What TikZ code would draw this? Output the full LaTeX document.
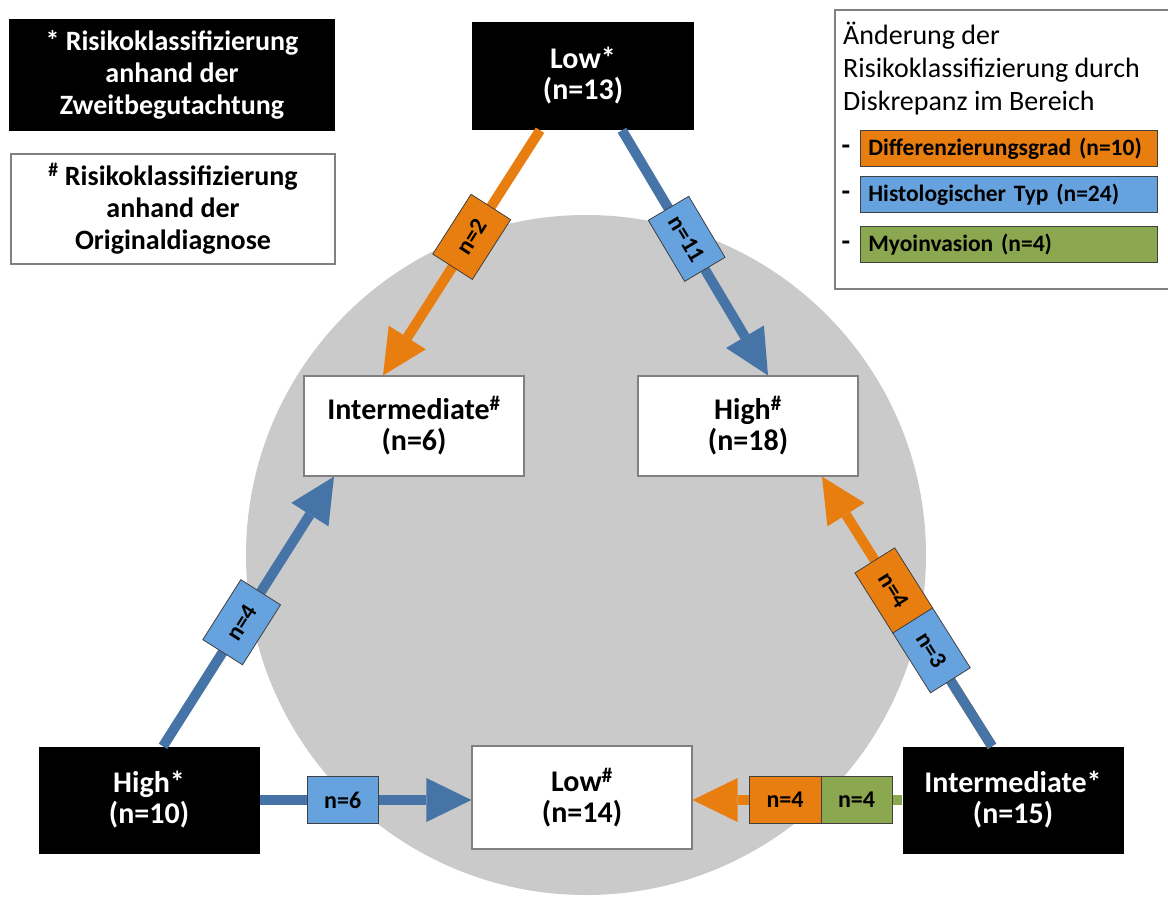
\documentclass[tikz,border=0pt]{standalone}
\usepackage{fontspec}
\setmainfont{Carlito}
\usetikzlibrary{arrows.meta}
\definecolor{myorange}{HTML}{E97E10}
\definecolor{lineblue}{HTML}{4674A6}
\definecolor{boxblue}{HTML}{66A2DE}
\definecolor{mygreen}{HTML}{8BA74F}
\definecolor{circgray}{HTML}{CACACA}
\definecolor{boxgray}{HTML}{808080}
\definecolor{lblborder}{HTML}{404040}
\tikzset{
  blk/.style={fill=black, text=white, font=\bfseries\fontsize{30}{31}\selectfont, align=center,
    minimum width=221pt, minimum height=107pt, inner sep=0pt},
  wht/.style={fill=white, draw=boxgray, line width=1.2pt, text=black,
    font=\bfseries\fontsize{30}{31}\selectfont, align=center,
    minimum width=220pt, minimum height=100pt, inner sep=0pt},
  note/.style={font=\bfseries\fontsize{28}{32}\selectfont},
  conn/.style={line width=10pt},
  arrowhd/.style={-{Triangle[length=45pt,width=44pt,line width=0pt]}},
  lbl/.style={draw=lblborder, line width=0.8pt, font=\bfseries\fontsize{24}{28}\selectfont,
    minimum width=71pt, minimum height=47pt, inner sep=0pt, sloped, text=black},
  legitem/.style={draw=lblborder, line width=0.8pt, anchor=north west, text=black,
    font=\bfseries\fontsize{23.5}{26}\selectfont, minimum width=297pt, minimum height=36pt,
    inner xsep=8pt, inner ysep=0pt, text width=281pt, align=left},
  legdash/.style={anchor=base, font=\bfseries\fontsize{28}{32}\selectfont, inner sep=0pt},
}
\begin{document}
\begin{tikzpicture}[x=1pt,y=-1pt]
\useasboundingbox (0,0) rectangle (1168,898);
% background circle
\fill[circgray] (586,555) circle (340pt);

% notes top left
\node[blk, note, minimum width=326pt, minimum height=112pt] (noteA) at (172,75)
  {* Risikoklassifizierung\\anhand der\\Zweitbegutachtung};
\node[wht, note, minimum width=324pt, minimum height=110pt] (noteB) at (173,209)
  {\textsuperscript{\#} Risikoklassifizierung\\anhand der\\Originaldiagnose};

% legend
\draw[boxgray, line width=1.2pt] (1168,10) -- (835,10) -- (835,289) -- (1168,289);
\node[anchor=north west, align=left, inner sep=0pt, font=\fontsize{28}{33}\selectfont] (legtitle) at (843,22)
  {Änderung der\\Risikoklassifizierung durch\\Diskrepanz im Bereich};
\node[legitem, fill=myorange] (legD) at (860,130) {Differenzierungsgrad (n=10)};
\node[legitem, fill=boxblue] (legH) at (860,176) {Histologischer Typ (n=24)};
\node[legitem, fill=mygreen] (legM) at (860,226) {Myoinvasion (n=4)};
\node[legdash] (dashD) at (846,154) {-};
\node[legdash] (dashH) at (846,200) {-};
\node[legdash] (dashM) at (846,250) {-};

% main nodes
\node[blk, minimum width=222pt, minimum height=108pt] (low2) at (583,76) {Low*\\(n=13)};
\node[wht] (int1) at (414,426) {Intermediate\textsuperscript{\#}\\(n=6)};
\node[wht] (high1) at (748,426) {High\textsuperscript{\#}\\(n=18)};
\node[blk] (high2) at (149,800) {High*\\(n=10)};
\node[wht, minimum height=103pt] (low1) at (582,797.5) {Low\textsuperscript{\#}\\(n=14)};
\node[blk] (int2) at (1013,800) {Intermediate*\\(n=15)};

% connectors
\draw[conn, myorange, arrowhd] ([xshift=-43pt]low2.south) -- ([xshift=-31pt]int1.north)
  node[lbl, fill=myorange, pos=0.435] (l1) {n=2};
\draw[conn, lineblue, arrowhd] ([xshift=39pt]low2.south) -- ([xshift=20pt]high1.north)
  node[lbl, fill=boxblue, pos=0.443] (l2) {n=11};
\draw[conn, lineblue, arrowhd] ([xshift=14pt]high2.north) -- ([xshift=-80pt]int1.south)
  node[lbl, fill=boxblue, pos=0.46] (l3) {n=4};
\draw[conn, lineblue, arrowhd] (high2.east) -- (high2.east -| low1.west)
  node[lbl, fill=boxblue, pos=0.392] (l4) {n=6};
\draw[conn, myorange, arrowhd] ([xshift=-21pt]int2.north) -- ([xshift=74pt]high1.south)
  coordinate[pos=0.467] (m5);
\draw[conn, lineblue] ([xshift=-21pt]int2.north) -- (m5);
\path ([xshift=-21pt]int2.north) -- ([xshift=74pt]high1.south)
  node[lbl, fill=boxblue, pos=0.356] (l5b) {n=3}
  node[lbl, fill=myorange, pos=0.578] (l5a) {n=4};
\draw[conn, myorange, arrowhd] (int2.west) -- (int2.west -| low1.east)
  coordinate[pos=0.389] (m6);
\draw[conn, mygreen] (int2.west) -- (m6);
\path (int2.west) -- (int2.west -| low1.east)
  node[lbl, fill=mygreen, pos=0.218, minimum width=72pt] (l6g) {n=4}
  node[lbl, fill=myorange, pos=0.559, minimum width=72pt] (l6o) {n=4};
\end{tikzpicture}
\end{document}
